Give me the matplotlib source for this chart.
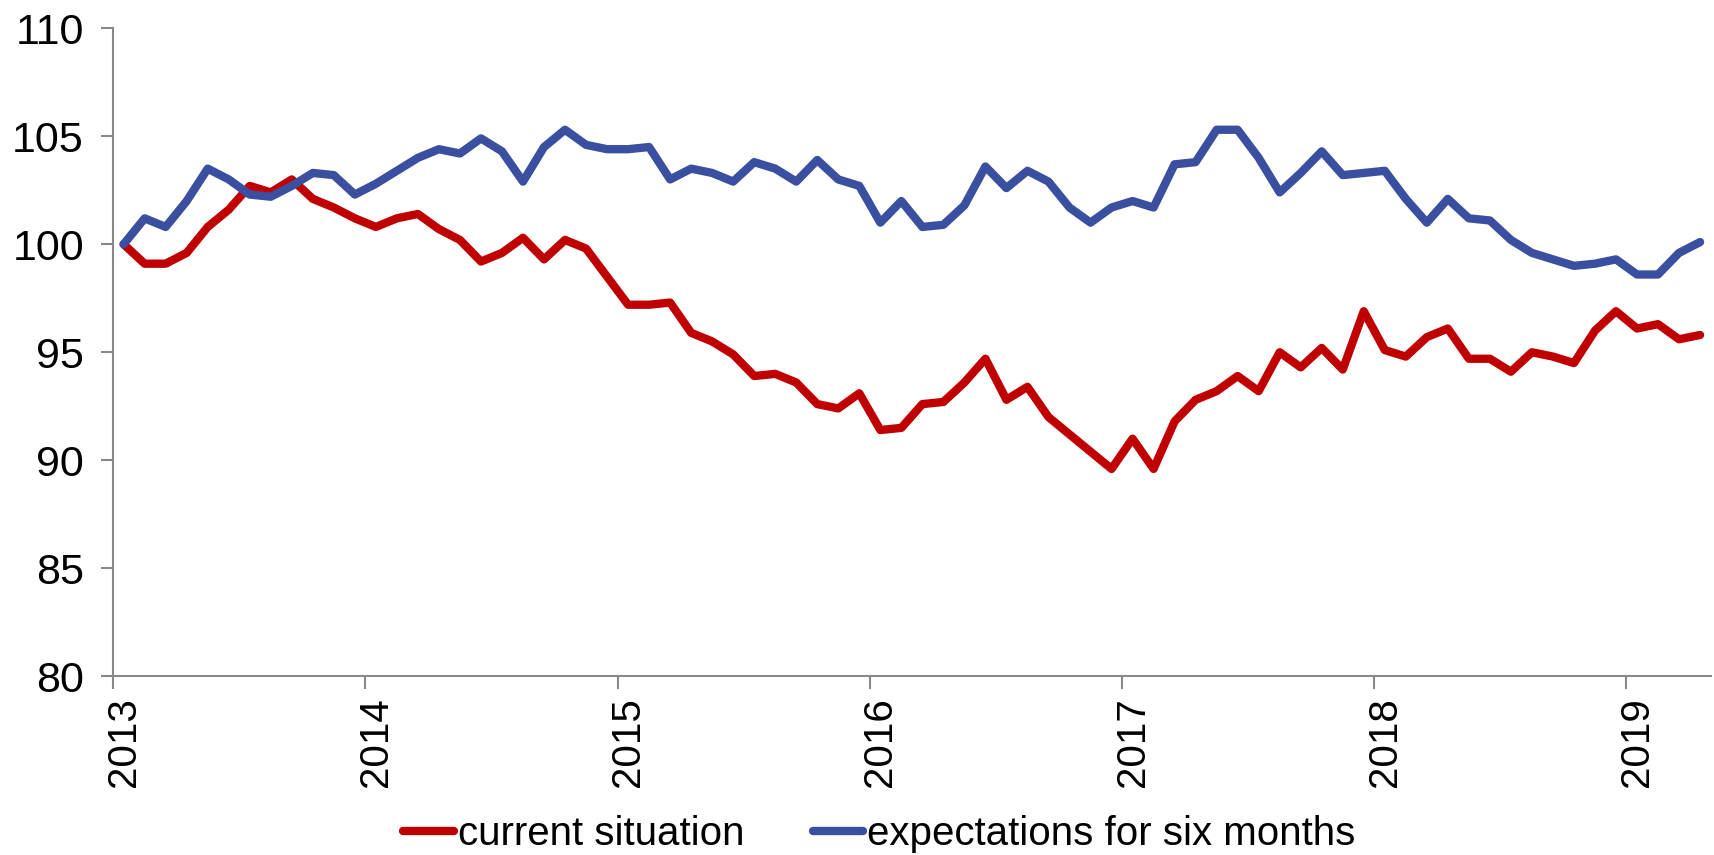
import matplotlib
matplotlib.use("Agg")
import matplotlib.pyplot as plt
import numpy as np

# monthly index values, Jan 2013 .. Apr 2019
current = [100.0, 99.1, 99.1, 99.6, 100.8, 101.6, 102.7, 102.4, 103.0, 102.1, 101.7, 101.2,
           100.8, 101.2, 101.4, 100.7, 100.2, 99.2, 99.6, 100.3, 99.3, 100.2, 99.8, 98.5,
           97.2, 97.2, 97.3, 95.9, 95.5, 94.9, 93.9, 94.0, 93.6, 92.6, 92.4, 93.1,
           91.4, 91.5, 92.6, 92.7, 93.6, 94.7, 92.8, 93.4, 92.0, 91.2, 90.4, 89.6,
           91.0, 89.6, 91.8, 92.8, 93.2, 93.9, 93.2, 95.0, 94.3, 95.2, 94.2, 96.9,
           95.1, 94.8, 95.7, 96.1, 94.7, 94.7, 94.1, 95.0, 94.8, 94.5, 96.0, 96.9,
           96.1, 96.3, 95.6, 95.8]
expectations = [100.0, 101.2, 100.8, 102.0, 103.5, 103.0, 102.3, 102.2, 102.7, 103.3, 103.2, 102.3,
                102.8, 103.4, 104.0, 104.4, 104.2, 104.9, 104.3, 102.9, 104.5, 105.3, 104.6, 104.4,
                104.4, 104.5, 103.0, 103.5, 103.3, 102.9, 103.8, 103.5, 102.9, 103.9, 103.0, 102.7,
                101.0, 102.0, 100.8, 100.9, 101.8, 103.6, 102.6, 103.4, 102.9, 101.7, 101.0, 101.7,
                102.0, 101.7, 103.7, 103.8, 105.3, 105.3, 104.0, 102.4, 103.3, 104.3, 103.2, 103.3,
                103.4, 102.1, 101.0, 102.1, 101.2, 101.1, 100.2, 99.6, 99.3, 99.0, 99.1, 99.3,
                98.6, 98.6, 99.6, 100.1]
years = ["2013", "2014", "2015", "2016", "2017", "2018", "2019"]

plt.rcParams['font.family'] = ['Liberation Sans', 'DejaVu Sans']

fig = plt.figure(figsize=(17.14, 8.55), dpi=100)
ax = fig.add_axes([0.066, 0.209, 0.932, 0.758])

x = np.arange(len(current)) + 0.5
ax.plot(x, current, color='#C00000', linewidth=6, solid_joinstyle='round',
        solid_capstyle='round', label='current situation')
ax.plot(x, expectations, color='#3A4F9F', linewidth=6, solid_joinstyle='round',
        solid_capstyle='round', label='expectations for six months')

ax.set_xlim(0, 76)
ax.set_ylim(80, 110)
ax.set_yticks(range(80, 111, 5))

# tick marks on year boundaries, labels on the January point
ax.set_xticks(np.arange(len(years)) * 12)
ax.set_xticklabels([])
ax.set_xticks(np.arange(len(years)) * 12 + 0.5, minor=True)
ax.set_xticklabels(years, minor=True, rotation=90)
ax.tick_params(axis='x', which='minor', length=0, pad=15, labelsize=29)
ax.tick_params(axis='x', which='major', length=9, width=1.5, color='#898989')
ax.tick_params(axis='y', length=9, width=1.5, color='#898989', pad=12, labelsize=31)

for s in ['top', 'right']:
    ax.spines[s].set_visible(False)
for s in ['left', 'bottom']:
    ax.spines[s].set_color('#898989')
    ax.spines[s].set_linewidth(1.5)

fig.legend(loc='lower center', bbox_to_anchor=(0.513, -0.04), ncol=2, frameon=False,
           fontsize=29, handlelength=1.25, handletextpad=0.1, columnspacing=1.7)

fig.savefig('out.png', dpi=100)
